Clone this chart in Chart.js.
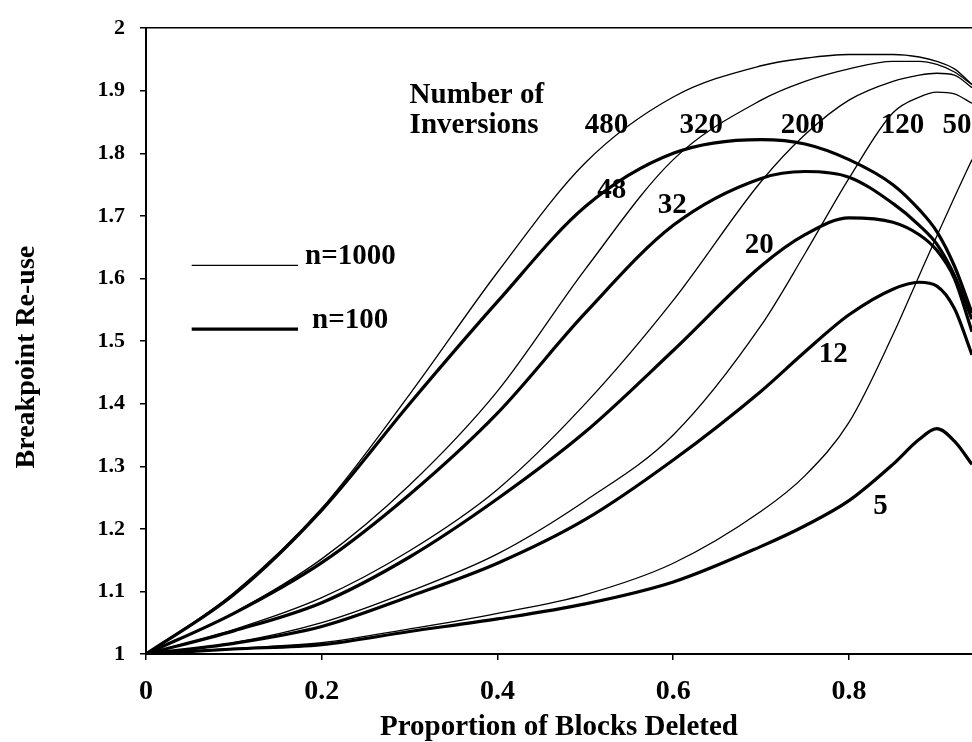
<!DOCTYPE html>
<html>
<head>
<meta charset="utf-8">
<script src="https://cdn.jsdelivr.net/npm/chart.js@4/dist/chart.umd.min.js"></script>
<style>
  body { margin: 0; background: #fff; overflow: hidden; }
</style>
</head>
<body>
<canvas id="chart" width="972" height="742"></canvas>
<script>
// proportion of blocks deleted
const xs = [0, 0.1, 0.2, 0.3, 0.4, 0.5, 0.6, 0.7, 0.75, 0.8, 0.85, 0.88, 0.9, 0.92, 0.94];

// n=1000 (thin lines)
const inv480 = [1, 1.098, 1.233, 1.415, 1.61, 1.785, 1.89, 1.94, 1.952, 1.958, 1.958, 1.954, 1.947, 1.935, 1.91];
const inv320 = [1, 1.066, 1.152, 1.27, 1.42, 1.615, 1.79, 1.885, 1.915, 1.935, 1.947, 1.947, 1.942, 1.93, 1.91];
const inv200 = [1, 1.039, 1.09, 1.165, 1.263, 1.40, 1.565, 1.755, 1.83, 1.885, 1.915, 1.925, 1.928, 1.925, 1.905];
const inv120 = [1, 1.018, 1.05, 1.10, 1.16, 1.245, 1.35, 1.525, 1.64, 1.76, 1.865, 1.89, 1.898, 1.895, 1.88];
const inv50  = [1, 1.009, 1.018, 1.04, 1.065, 1.095, 1.145, 1.228, 1.285, 1.37, 1.51, 1.605, 1.668, 1.73, 1.79];

// n=100 (thick lines)
const inv48 = [1, 1.095, 1.23, 1.40, 1.563, 1.715, 1.80, 1.822, 1.815, 1.79, 1.75, 1.71, 1.675, 1.62, 1.545];
const inv32 = [1, 1.065, 1.146, 1.255, 1.385, 1.545, 1.685, 1.76, 1.771, 1.762, 1.72, 1.685, 1.655, 1.605, 1.535];
const inv20 = [1, 1.037, 1.082, 1.155, 1.248, 1.355, 1.485, 1.62, 1.67, 1.697, 1.69, 1.67, 1.645, 1.60, 1.515];
const inv12 = [1, 1.017, 1.044, 1.092, 1.145, 1.215, 1.31, 1.42, 1.483, 1.542, 1.583, 1.594, 1.588, 1.552, 1.478];
const inv5  = [1, 1.008, 1.015, 1.036, 1.056, 1.08, 1.115, 1.172, 1.205, 1.245, 1.303, 1.343, 1.36, 1.34, 1.303];

const thinSeries = [['480', inv480], ['320', inv320], ['200', inv200], ['120', inv120], ['50', inv50]];
const thickSeries = [['48', inv48], ['32', inv32], ['20', inv20], ['12', inv12], ['5', inv5]];

// curve labels, in data units
const curveLabels = [
    {text: '480', x: 0.524, y: 1.844}, {text: '320', x: 0.632, y: 1.844},
    {text: '200', x: 0.747, y: 1.844}, {text: '120', x: 0.861, y: 1.844},
    {text: '50', x: 0.923, y: 1.844},
    {text: '48', x: 0.53, y: 1.74}, {text: '32', x: 0.599, y: 1.716},
    {text: '20', x: 0.698, y: 1.652}, {text: '12', x: 0.782, y: 1.479},
    {text: '5', x: 0.836, y: 1.235}
];

const FONT = '"Liberation Serif", "Times New Roman", serif';

function toPoints(arr) {
    return arr.map((v, i) => ({x: xs[i], y: v}));
}

const datasets = [];
thinSeries.forEach(s => datasets.push({
    label: 'n=1000 ' + s[0], data: toPoints(s[1]),
    borderColor: '#000', borderWidth: 1.3, pointRadius: 0,
    fill: false, cubicInterpolationMode: 'monotone'
}));
thickSeries.forEach(s => datasets.push({
    label: 'n=100 ' + s[0], data: toPoints(s[1]),
    borderColor: '#000', borderWidth: 3.2, pointRadius: 0,
    fill: false, cubicInterpolationMode: 'monotone'
}));

const textPlugin = {
    id: 'textPlugin',
    afterDraw(chart) {
        const ctx = chart.ctx;
        const sx = chart.scales.x, sy = chart.scales.y;
        const area = chart.chartArea;
        ctx.save();
        ctx.fillStyle = '#000';
        ctx.strokeStyle = '#000';
        ctx.font = 'bold 29px ' + FONT;
        ctx.textBaseline = 'middle';

        // curve labels
        ctx.textAlign = 'center';
        curveLabels.forEach(l => {
            ctx.fillText(l.text, sx.getPixelForValue(l.x), sy.getPixelForValue(l.y));
        });

        // heading
        ctx.textAlign = 'left';
        ctx.fillText('Number of', sx.getPixelForValue(0.3), sy.getPixelForValue(1.892));
        ctx.fillText('Inversions', sx.getPixelForValue(0.3), sy.getPixelForValue(1.844));

        // key
        const x0 = sx.getPixelForValue(0.052), x1 = sx.getPixelForValue(0.173);
        let y = sy.getPixelForValue(1.621);
        ctx.lineWidth = 1.3;
        ctx.beginPath(); ctx.moveTo(x0, y); ctx.lineTo(x1, y); ctx.stroke();
        ctx.fillText('n=1000', sx.getPixelForValue(0.181), sy.getPixelForValue(1.635));
        y = sy.getPixelForValue(1.519);
        ctx.lineWidth = 3.2;
        ctx.beginPath(); ctx.moveTo(x0, y); ctx.lineTo(x1, y); ctx.stroke();
        ctx.fillText('n=100', sx.getPixelForValue(0.189), sy.getPixelForValue(1.533));

        // y axis title
        ctx.font = 'bold 28px ' + FONT;
        ctx.textAlign = 'center';
        ctx.translate(27, (area.top + area.bottom) / 2 + 16);
        ctx.rotate(-Math.PI / 2);
        ctx.fillText('Breakpoint Re-use', 0, 0);
        ctx.restore();
    }
};

new Chart(document.getElementById('chart'), {
    type: 'line',
    data: {datasets: datasets},
    options: {
        responsive: false,
        animation: false,
        devicePixelRatio: 1,
        layout: {padding: 0},
        plugins: {legend: {display: false}, tooltip: {enabled: false}},
        scales: {
            x: {
                type: 'linear', position: 'bottom', min: 0, max: 0.94,
                afterFit(scale) { scale.height = 88; },
                grid: {display: true, drawOnChartArea: false, drawTicks: true, tickLength: 6, color: '#000', lineWidth: 1.5},
                border: {display: true, color: '#000', width: 2},
                ticks: {
                    stepSize: 0.2, includeBounds: false, padding: 15, color: '#000',
                    font: {family: FONT, size: 28, weight: 'bold'},
                    callback: v => String(+v.toFixed(1))
                },
                title: {
                    display: true, text: 'Proportion of Blocks Deleted', color: '#000',
                    font: {family: FONT, size: 29, weight: 'bold', lineHeight: 1},
                    padding: 0
                }
            },
            x2: {
                type: 'linear', position: 'top', min: 0, max: 0.94,
                afterFit(scale) { scale.height = 24; },
                grid: {display: false},
                border: {display: true, color: '#000', width: 1.5},
                ticks: {display: false}
            },
            y: {
                type: 'linear', position: 'left', min: 1, max: 2,
                afterFit(scale) { scale.width = 146; },
                grid: {display: true, drawOnChartArea: false, drawTicks: true, tickLength: 6, color: '#000', lineWidth: 1.5},
                border: {display: true, color: '#000', width: 2},
                ticks: {
                    stepSize: 0.1, padding: 15, color: '#000',
                    font: {family: FONT, size: 22, weight: 'bold'},
                    callback: v => String(+v.toFixed(1))
                }
            }
        }
    },
    plugins: [textPlugin]
});
</script>
</body>
</html>
